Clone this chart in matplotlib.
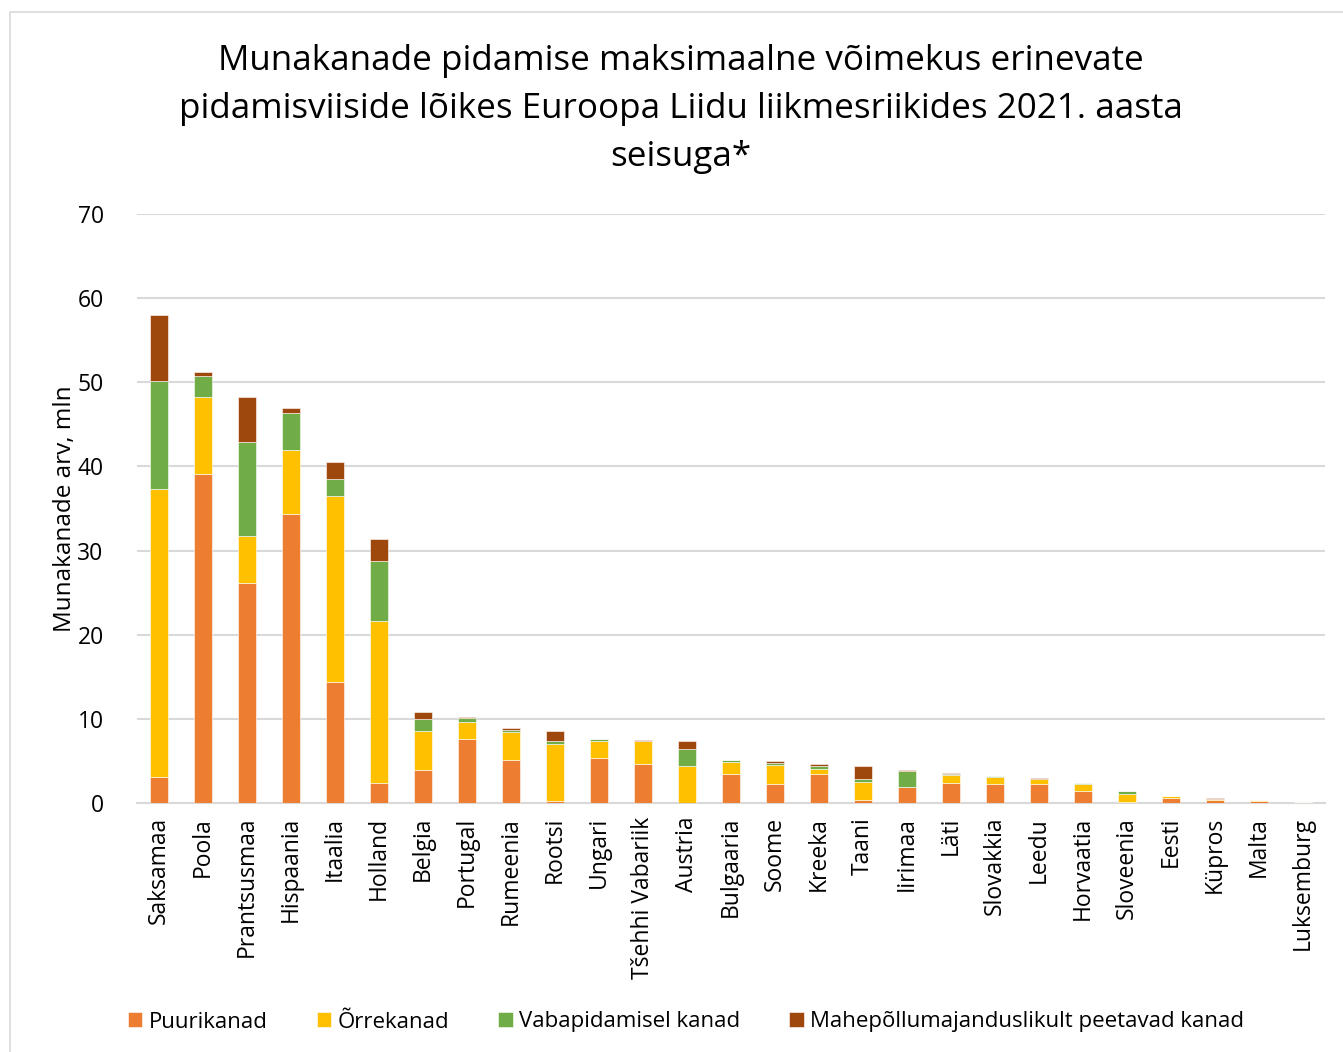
import matplotlib
matplotlib.use("Agg")
import matplotlib.pyplot as plt
import numpy as np
from matplotlib.patches import Rectangle

plt.rcParams['font.family'] = ['Open Sans', 'DejaVu Sans']

riigid = ["Saksamaa", "Poola", "Prantsusmaa", "Hispaania", "Itaalia", "Holland",
          "Belgia", "Portugal", "Rumeenia", "Rootsi", "Ungari", "Tšehhi Vabariik",
          "Austria", "Bulgaaria", "Soome", "Kreeka", "Taani", "Iirimaa", "Läti",
          "Slovakkia", "Leedu", "Horvaatia", "Sloveenia", "Eesti", "Küpros",
          "Malta", "Luksemburg"]

puur = [3.1, 39.05, 26.1, 34.4, 14.4, 2.4, 3.9, 7.6, 5.1, 0.27, 5.3, 4.6, 0.05,
        3.5, 2.25, 3.5, 0.35, 1.85, 2.4, 2.25, 2.25, 1.4, 0.1, 0.6, 0.3, 0.2, 0.02]
orre = [34.2, 9.15, 5.6, 7.6, 22.1, 19.2, 4.7, 2.05, 3.3, 6.7, 2.1, 2.75, 4.3,
        1.4, 2.25, 0.6, 2.2, 0.05, 0.9, 0.8, 0.6, 0.8, 1.0, 0.2, 0.15, 0.15, 0.05]
vaba = [12.85, 2.5, 11.2, 4.3, 2.0, 7.2, 1.4, 0.5, 0.3, 0.37, 0.15, 0.05, 2.1,
        0.2, 0.25, 0.3, 0.3, 1.85, 0.2, 0.1, 0.05, 0.12, 0.3, 0.05, 0.05, 0.0, 0.05]
mahe = [7.85, 0.5, 5.3, 0.7, 2.0, 2.6, 0.8, 0.05, 0.25, 1.27, 0.05, 0.05, 0.95,
        0.02, 0.3, 0.25, 1.5, 0.15, 0.05, 0.05, 0.07, 0.05, 0.03, 0.02, 0.05, 0.01, 0.03]

seeria_nimed = ["Puurikanad", "Õrrekanad", "Vabapidamisel kanad",
                "Mahepõllumajanduslikult peetavad kanad"]
varvid = ["#ED7D31", "#FFC000", "#70AD47", "#9E480E"]

fig = plt.figure(figsize=(13.43, 10.52), dpi=100)
ax = fig.add_axes([137 / 1343, 1 - 803 / 1052, (1325 - 137) / 1343, (803 - 214) / 1052])

x = np.arange(len(riigid))
pohi = np.zeros(len(riigid))
for andmed, nimi, v in zip([puur, orre, vaba, mahe], seeria_nimed, varvid):
    ax.bar(x, andmed, bottom=pohi, width=0.4, color=v, label=nimi,
           edgecolor="white", linewidth=0.4, zorder=3)
    pohi += np.array(andmed)

ax.set_xlim(-0.5, len(riigid) - 0.5)
ax.set_ylim(0, 70)
ax.set_yticks(range(0, 71, 10))
ax.tick_params(axis="y", length=0, labelsize=16.5, pad=24, colors="#000000")
ax.set_xticks(x)
ax.set_xticklabels(riigid, rotation=90, fontsize=16.5)
ax.tick_params(axis="x", length=0, pad=10)
ax.grid(axis="y", color="#D9D9D9", linewidth=1.5, zorder=0)
for s in ["top", "right", "left"]:
    ax.spines[s].set_visible(False)
ax.spines["bottom"].set_color("#D9D9D9")
ax.spines["bottom"].set_linewidth(1.5)

ax.set_ylabel("Munakanade arv, mln", fontsize=17.5)
ax.yaxis.set_label_coords(-60 / 1188, 0.5)

fig.text(681 / 1343, 1 - 109 / 1052,
         "Munakanade pidamise maksimaalne võimekus erinevate\n"
         "pidamisviiside lõikes Euroopa Liidu liikmesriikides 2021. aasta\nseisuga*",
         ha="center", va="center", fontsize=25.2, linespacing=1.52)

fig.legend(loc="center", bbox_to_anchor=(686 / 1343, 1 - 1022 / 1052), ncol=4,
           frameon=False, fontsize=16, handlelength=0.65, handleheight=0.65,
           handletextpad=0.3, columnspacing=2.2)

fig.patches.append(Rectangle((10 / 1343, -0.01), 1.0, 1 - 12 / 1052 + 0.01,
                             transform=fig.transFigure, fill=False,
                             edgecolor="#D9D9D9", linewidth=1.2))

fig.savefig("out.png", dpi=100)
